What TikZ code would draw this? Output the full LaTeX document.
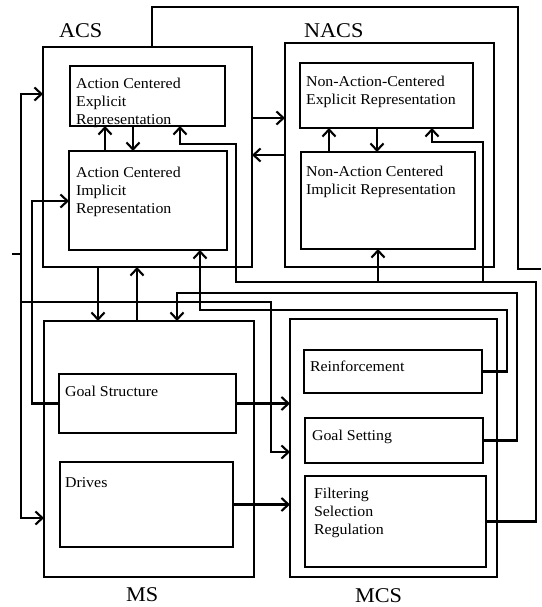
\documentclass[tikz,border=0pt]{standalone}
\usepackage{fontspec}
\setmainfont{Liberation Serif}[FakeStretch=1.06]
\usetikzlibrary{arrows.meta}
\begin{document}
\begin{tikzpicture}[x=1pt,y=-1pt, line width=2.1pt,
  box/.style={draw, line width=2.1pt, inner sep=0pt, outer sep=0pt, anchor=north west},
  txt/.style={inner sep=0pt, anchor=north west, align=left, font=\fontsize{15}{18}\selectfont},
  ttl/.style={inner sep=0pt, anchor=base west, font=\fontsize{21}{24}\selectfont},
  arr/.style={-{Straight Barb[length=7pt,width=13pt]}}]
\useasboundingbox (0,0) rectangle (541,607);
% boxes
\node[box, minimum width=209pt, minimum height=220pt] (acs) at (43,47) {};
\node[box, minimum width=155pt, minimum height=60pt] (acsE) at (70,66) {};
\node[box, minimum width=158pt, minimum height=99pt] (acsI) at (69,151) {};
\node[box, minimum width=209pt, minimum height=224pt] (nacs) at (285,43) {};
\node[box, minimum width=173pt, minimum height=65pt] (nacsE) at (300,63) {};
\node[box, minimum width=174pt, minimum height=97pt] (nacsI) at (301,152) {};
\node[box, minimum width=210pt, minimum height=256pt] (ms) at (44,321) {};
\node[box, minimum width=177pt, minimum height=59pt] (goal) at (59,374) {};
\node[box, minimum width=173pt, minimum height=85pt] (drives) at (60,462) {};
\node[box, minimum width=207pt, minimum height=258pt] (mcs) at (290,319) {};
\node[box, minimum width=178pt, minimum height=43pt] (reinf) at (304,350) {};
\node[box, minimum width=178pt, minimum height=45pt] (gset) at (305,418) {};
\node[box, minimum width=181pt, minimum height=91pt] (filt) at (305,476) {};
% texts
\node[txt] (tAE) at (75,77) {Action Centered\\Explicit\\Representation};
\node[txt] (tAI) at (75,166) {Action Centered\\Implicit\\Representation};
\node[txt] (tNE) at (305,75) {Non-Action-Centered\\Explicit Representation};
\node[txt] (tNI) at (305,165) {Non-Action Centered\\Implicit Representation};
\node[txt] (tGS) at (64,385) {Goal Structure};
\node[txt] (tDr) at (64,477) {Drives};
\node[txt] (tRe) at (309,360) {Reinforcement};
\node[txt] (tGo) at (311,429) {Goal Setting};
\node[txt] (tFi) at (313,487) {Filtering\\Selection\\Regulation};
\node[ttl] (lACS) at (58,38) {ACS};
\node[ttl] (lNACS) at (303,38) {NACS};
\node[ttl] (lMS) at (125,601) {MS};
\node[ttl] (lMCS) at (354,602) {MCS};
% lane coordinates
\coordinate (xA) at (105,0); \coordinate (xB) at (133,0); \coordinate (xC) at (180,0);
\coordinate (fR) at (536,282); \coordinate (fL) at (236,282); \coordinate (fT) at (236,144);
\coordinate (bD) at (378,282); \coordinate (bE) at (483,282); \coordinate (cE) at (483,142);
\coordinate (xE) at (432,0);
\coordinate (xN1) at (329,0); \coordinate (xN2) at (377,0);
\coordinate (yF) at (0,118); \coordinate (yG) at (0,155);
\coordinate (xH) at (152,0); \coordinate (tB) at (518,7); \coordinate (tEnd) at (541,269);
\coordinate (xI) at (98,0); \coordinate (xJ) at (137,0);
\coordinate (lIn) at (12,254); \coordinate (lTop) at (21,94); \coordinate (lBot) at (21,518);
\coordinate (lJ) at (21,302); \coordinate (lC) at (271,302); \coordinate (yK) at (0,452);
\coordinate (lG) at (32,201);
\coordinate (gR) at (517,293); \coordinate (gL) at (177,293);
\coordinate (rR) at (507,310); \coordinate (rL) at (200,310);
% connectors
\draw[arr] (acsI.north -| xA) -- (acsE.south -| xA);
\draw[arr] (acsE.south -| xB) -- (acsI.north -| xB);
\draw[arr] (nacsI.north -| xN1) -- (nacsE.south -| xN1);
\draw[arr] (nacsE.south -| xN2) -- (nacsI.north -| xN2);
\draw[arr] (filt.east) -| (fR) -- (fL) -- (fT) -| (acsE.south -| xC);
\draw[arr] (bD) -- (nacsI.south -| bD);
\draw[arr] (bE) -- (cE) -| (nacsE.south -| xE);
\draw[arr] (acs.east |- yF) -- (nacs.west |- yF);
\draw[arr] (nacs.west |- yG) -- (acs.east |- yG);
\draw (acs.north -| xH) |- (tB) |- (tEnd);
\draw[arr] (acs.south -| xI) -- (ms.north -| xI);
\draw[arr] (ms.north -| xJ) -- (acs.south -| xJ);
\draw (lIn) -- (lIn -| lTop);
\draw[arr] (lBot) |- (acs.west |- lTop);
\draw[arr] (lTop) |- (ms.west |- lBot);
\draw[arr] (lJ) -- (lC) |- (mcs.west |- yK);
\draw[arr] (goal.west) -| (lG) -- (acsI.west |- lG);
\draw[arr] (goal.east) -- (mcs.west |- goal.east);
\draw[arr] (drives.east) -- (mcs.west |- drives.east);
\draw[arr] (gset.east) -| (gR) -- (gL) -- (ms.north -| gL);
\draw[arr] (reinf.east) -| (rR) -- (rL) -- (acsI.south -| rL);
\end{tikzpicture}
\end{document}
